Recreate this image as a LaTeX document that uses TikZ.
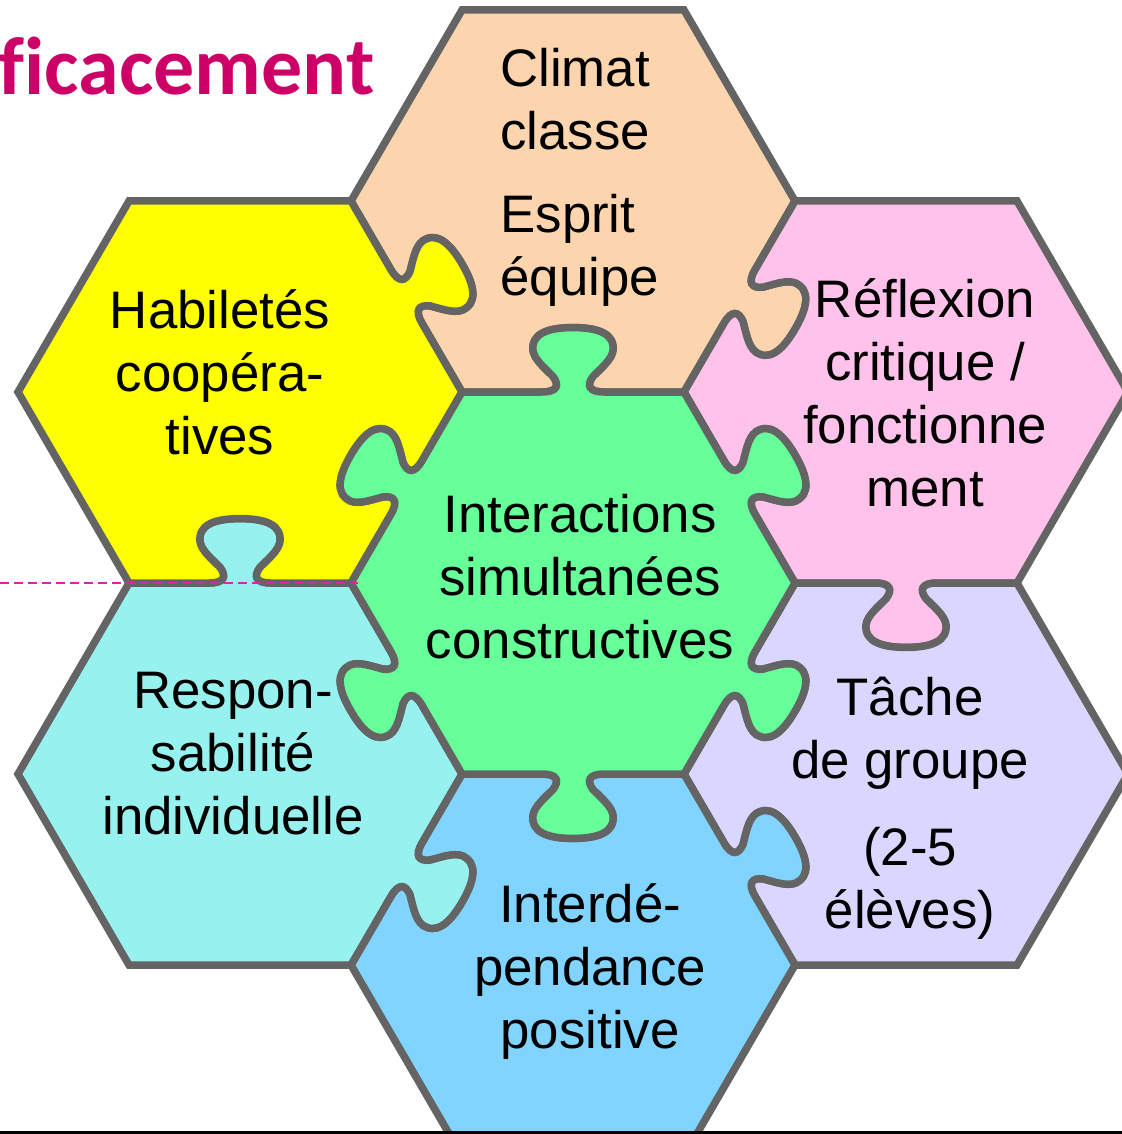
\documentclass[tikz,border=0pt]{standalone}
\usepackage{fontspec}
\setmainfont{Liberation Sans}
\newfontfamily\titlefont[Ligatures=CommonOff]{Carlito}
\usetikzlibrary{calc}

\definecolor{peach}{HTML}{FCD5AF}
\definecolor{lemon}{HTML}{FFFF00}
\definecolor{rose}{HTML}{FFC3EB}
\definecolor{mint}{HTML}{66FF99}
\definecolor{lilac}{HTML}{D9D6FF}
\definecolor{aqua}{HTML}{97F2EF}
\definecolor{sky}{HTML}{80D4FF}
\definecolor{rim}{HTML}{646464}
\definecolor{titlered}{HTML}{CC0066}
\definecolor{guide}{HTML}{E020B0}

\tikzset{
  knob/.style={to path={
    -- ($(\tikztostart)!0.36!(\tikztotarget)$)
    .. controls ($(\tikztostart)!0.43!(\tikztotarget)$)
            and ($(\tikztostart)!0.44!(\tikztotarget)!3.3pt!#1:(\tikztotarget)$)
    .. ($(\tikztostart)!0.41!(\tikztotarget)!7.8pt!#1:(\tikztotarget)$)
    .. controls ($(\tikztostart)!0.36!(\tikztotarget)!13.3pt!#1:(\tikztotarget)$)
            and ($(\tikztostart)!0.31!(\tikztotarget)!17.8pt!#1:(\tikztotarget)$)
    .. ($(\tikztostart)!0.32!(\tikztotarget)!23.3pt!#1:(\tikztotarget)$)
    .. controls ($(\tikztostart)!0.33!(\tikztotarget)!31.1pt!#1:(\tikztotarget)$)
            and ($(\tikztostart)!0.43!(\tikztotarget)!32.2pt!#1:(\tikztotarget)$)
    .. ($(\tikztostart)!0.5!(\tikztotarget)!32.2pt!#1:(\tikztotarget)$)
    .. controls ($(\tikztostart)!0.57!(\tikztotarget)!32.2pt!#1:(\tikztotarget)$)
            and ($(\tikztostart)!0.67!(\tikztotarget)!31.1pt!#1:(\tikztotarget)$)
    .. ($(\tikztostart)!0.68!(\tikztotarget)!23.3pt!#1:(\tikztotarget)$)
    .. controls ($(\tikztostart)!0.69!(\tikztotarget)!17.8pt!#1:(\tikztotarget)$)
            and ($(\tikztostart)!0.64!(\tikztotarget)!13.3pt!#1:(\tikztotarget)$)
    .. ($(\tikztostart)!0.59!(\tikztotarget)!7.8pt!#1:(\tikztotarget)$)
    .. controls ($(\tikztostart)!0.56!(\tikztotarget)!3.3pt!#1:(\tikztotarget)$)
            and ($(\tikztostart)!0.57!(\tikztotarget)$)
    .. ($(\tikztostart)!0.64!(\tikztotarget)$)
    -- (\tikztotarget)}},
}

\begin{document}
\begin{tikzpicture}[x=0.5pt,y=-0.5pt,
  piece/.style={draw=rim, line width=3.75pt},
  blurb/.style={font=\fontsize{26.4}{31.5}\selectfont, align=center, inner sep=0pt}]
	\useasboundingbox (0,0) rectangle (1122,1134);
	% corners of the middle piece
	\coordinate (a) at (462,392);
	\coordinate (b) at (684,392);
	\coordinate (c) at (795,583);
	\coordinate (d) at (684,774);
	\coordinate (e) at (462,774);
	\coordinate (f) at (351,583);
	% corners shared by two outer pieces
	\coordinate (g) at (351,201);
	\coordinate (h) at (795,201);
	\coordinate (i) at (1017,583);
	\coordinate (j) at (795,965);
	\coordinate (k) at (351,965);
	\coordinate (l) at (129,583);
	% free corners
	\coordinate (t1) at (462,10);   \coordinate (t2) at (684,10);
	\coordinate (ur1) at (1017,201); \coordinate (ur2) at (1128,392);
	\coordinate (lr1) at (1128,774); \coordinate (lr2) at (1017,965);
	\coordinate (b1) at (684,1156);  \coordinate (b2) at (462,1156);
	\coordinate (ll1) at (129,965);  \coordinate (ll2) at (18,774);
	\coordinate (ul1) at (18,392);   \coordinate (ul2) at (129,201);

	\begin{scope}
	\clip (0,0) rectangle (1122,1131);
	\node[font=\titlefont\bfseries\fontsize{41}{49}\selectfont, text=titlered,
	  anchor=base east, inner sep=0pt] (titre) at (375,95) {efficacement};

	\filldraw[piece, fill=peach] (t1) -- (t2) -- (h) to[knob=90] (b)
	  to[knob=-90] (a) to[knob=-90] (g) -- cycle;
	\filldraw[piece, fill=rose] (h) -- (ur1) -- (ur2) -- (i) to[knob=90] (c)
	  to[knob=-90] (b) to[knob=-90] (h) -- cycle;
	\filldraw[piece, fill=lilac] (c) to[knob=-90] (i) -- (lr1) -- (lr2) -- (j)
	  to[knob=-90] (d) to[knob=-90] (c) -- cycle;
	\filldraw[piece, fill=sky] (e) to[knob=-90] (d) to[knob=90] (j) -- (b1)
	  -- (b2) -- (k) to[knob=-90] (e) -- cycle;
	\filldraw[piece, fill=aqua] (l) to[knob=90] (f) to[knob=-90] (e)
	  to[knob=90] (k) -- (ll1) -- (ll2) -- cycle;
	\filldraw[piece, fill=lemon] (ul2) -- (g) to[knob=90] (a) to[knob=-90] (f)
	  to[knob=-90] (l) -- (ul1) -- cycle;
	\filldraw[piece, fill=mint] (a) to[knob=90] (b) to[knob=90] (c)
	  to[knob=90] (d) to[knob=90] (e) to[knob=90] (f) to[knob=90] (a) -- cycle;

	\node[blurb, align=left, anchor=west] (climat) at (500,177)
	  {Climat\\classe\\[10pt]Esprit\\équipe};
	\node[blurb] (habil) at (220,372) {Habiletés\\coopéra-\\tives};
	\node[blurb] (reflex) at (925,393) {Réflexion\\critique /\\fonctionne\\ment};
	\node[blurb] (inter) at (580,577) {Interactions\\simultanées\\constructives};
	\node[blurb] (tache) at (910,808) {Tâche\\de groupe\\[12pt](2-5\\élèves)};
	\node[blurb] (respon) at (233,754) {Respon-\\sabilité\\individuelle};
	\node[blurb] (interd) at (590,972) {Interdé-\\pendance\\positive};
	\end{scope}

	\coordinate (g0) at (0,583);
	\coordinate (g1) at (358,583);
	\draw[guide, line width=1pt, dash pattern=on 4.5pt off 2.5pt] (g0) -- (g1);
	\coordinate (s0) at (0,1132.5);
	\coordinate (s1) at (1122,1132.5);
	\draw[line width=1.5pt] (s0) -- (s1);
\end{tikzpicture}
\end{document}
